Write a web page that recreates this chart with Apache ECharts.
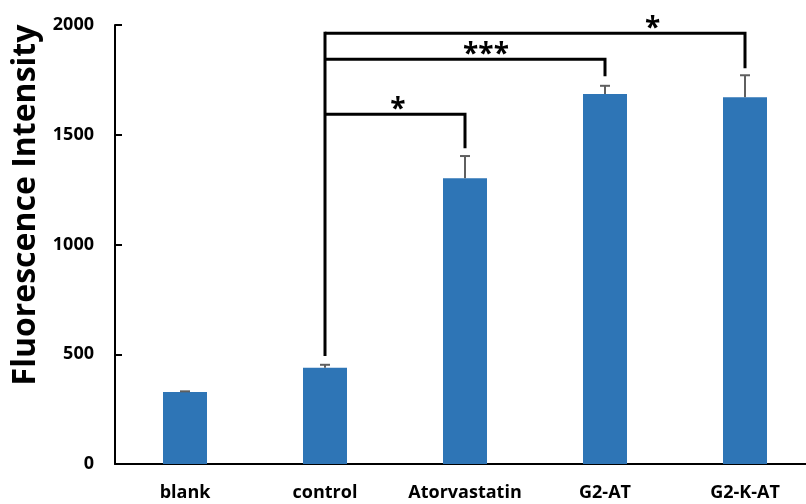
<!DOCTYPE html>
<html>
<head>
<meta charset="utf-8">
<script src="https://cdn.jsdelivr.net/npm/echarts@6/dist/echarts.min.js"></script>
<style>
  html, body { margin: 0; padding: 0; background: #fff; }
  #chart { width: 806px; height: 504px; }
</style>
</head>
<body>
<div id="chart"></div>
<script>
// data
const categories = ["blank", "control", "Atorvastatin", "G2-AT", "G2-K-AT"];
const meanValues = [328, 439, 1302, 1686, 1671];
const errValues = [3, 13, 101, 37, 100];
const yTicks = { min: 0, max: 2000, interval: 500 };

// significance brackets: from category, to category, top level, bottom of the drop line
const bracketFrom = [1, 1, 1];
const bracketTo = [2, 3, 4];
const bracketTop = [1593, 1844, 1962];
const bracketEnd = [1438, 1767, 1803];
const controlLineBottom = 492;
// star labels: text, x (category position), y (value at star centre)
const starText = ["*", "***", "*"];
const starX = [1.52, 2.15, 3.34];
const starY = [1646, 1897, 2015];

const chart = echarts.init(document.getElementById("chart"));

const labelFont = "'Open Sans', 'Liberation Sans', sans-serif";

// category index -> pixel x, fractional allowed
function catX(api, pos) {
  const i = Math.floor(pos);
  const f = pos - i;
  const a = api.coord([i, 0])[0];
  if (f === 0) return a;
  const b = api.coord([i + 1, 0])[0];
  return a + (b - a) * f;
}

const errorData = meanValues.map((v, i) => [i, v, v + errValues[i]]);
const bracketData = bracketFrom.map((f, i) => [f, bracketTo[i], bracketTop[i], bracketEnd[i]]);
const starData = starText.map((t, i) => [starX[i], starY[i], t]);

const option = {
  animation: false,
  grid: { left: 115, width: 700, top: 25, bottom: 40, outerBoundsMode: "none", containLabel: false },
  xAxis: {
    type: "category",
    data: categories,
    axisLine: { lineStyle: { color: "#000", width: 2 } },
    axisTick: { inside: true, alignWithLabel: true, length: 6, lineStyle: { color: "#000", width: 2 } },
    axisLabel: { interval: 0, color: "#000", fontFamily: labelFont, fontWeight: "bold", fontSize: 18, margin: 20 },
    splitLine: { show: false },
  },
  yAxis: {
    type: "value",
    min: yTicks.min,
    max: yTicks.max,
    interval: yTicks.interval,
    axisLine: { show: true, lineStyle: { color: "#000", width: 2 } },
    axisTick: { show: true, inside: true, length: 7, lineStyle: { color: "#000", width: 2 } },
    axisLabel: {
      color: "#000", fontFamily: labelFont, fontWeight: "bold", fontSize: 18, margin: 21,
      formatter: function (v) { return String(v); },
    },
    splitLine: { show: false },
  },
  graphic: [
    {
      type: "text",
      x: 26,
      y: 205,
      rotation: Math.PI / 2,
      style: {
        text: "Fluorescence Intensity",
        fill: "#000",
        font: "bold 32px 'Open Sans', sans-serif",
        align: "center",
        verticalAlign: "middle",
      },
    },
  ],
  series: [
    {
      type: "bar",
      data: meanValues,
      barWidth: 44,
      itemStyle: { color: "#2E75B6" },
      z: 2,
    },
    {
      type: "custom",
      data: errorData,
      z: 3,
      renderItem: function (params, api) {
        const x = api.coord([api.value(0), 0])[0];
        const yLow = api.coord([api.value(0), api.value(1)])[1];
        const yHigh = api.coord([api.value(0), api.value(2)])[1];
        const style = { stroke: "#5f5f5f", lineWidth: 2 };
        return {
          type: "group",
          children: [
            { type: "line", shape: { x1: x, y1: yLow, x2: x, y2: yHigh }, style: style },
            { type: "line", shape: { x1: x - 5, y1: yHigh, x2: x + 5, y2: yHigh }, style: style },
          ],
        };
      },
    },
    {
      type: "custom",
      data: bracketData,
      z: 4,
      clip: false,
      renderItem: function (params, api) {
        const x1 = catX(api, api.value(0));
        const x2 = catX(api, api.value(1));
        const yTop = api.coord([0, api.value(2)])[1];
        const yEnd = api.coord([0, api.value(3)])[1];
        const style = { stroke: "#000", lineWidth: 3, fill: null, lineJoin: "miter" };
        const children = [
          { type: "polyline", shape: { points: [[x1, yTop], [x2, yTop], [x2, yEnd]] }, style: style },
        ];
        if (params.dataIndex === 0) {
          // shared vertical line from control up to the highest bracket
          const yBottom = api.coord([0, controlLineBottom])[1];
          const yMax = api.coord([0, Math.max.apply(null, bracketTop)])[1];
          children.push({ type: "line", shape: { x1: x1, y1: yBottom, x2: x1, y2: yMax - 1.5 }, style: style });
        }
        return { type: "group", children: children };
      },
    },
    {
      type: "custom",
      data: starData,
      z: 5,
      clip: false,
      renderItem: function (params, api) {
        const x = catX(api, api.value(0));
        const y = api.coord([0, api.value(1)])[1];
        return {
          type: "text",
          x: x,
          y: y + 7,
          style: {
            text: starText[params.dataIndex],
            fill: "#000",
            font: "bold 28px 'Open Sans', sans-serif",
            align: "center",
            verticalAlign: "middle",
          },
        };
      },
    },
  ],
};

chart.setOption(option);
</script>
</body>
</html>
